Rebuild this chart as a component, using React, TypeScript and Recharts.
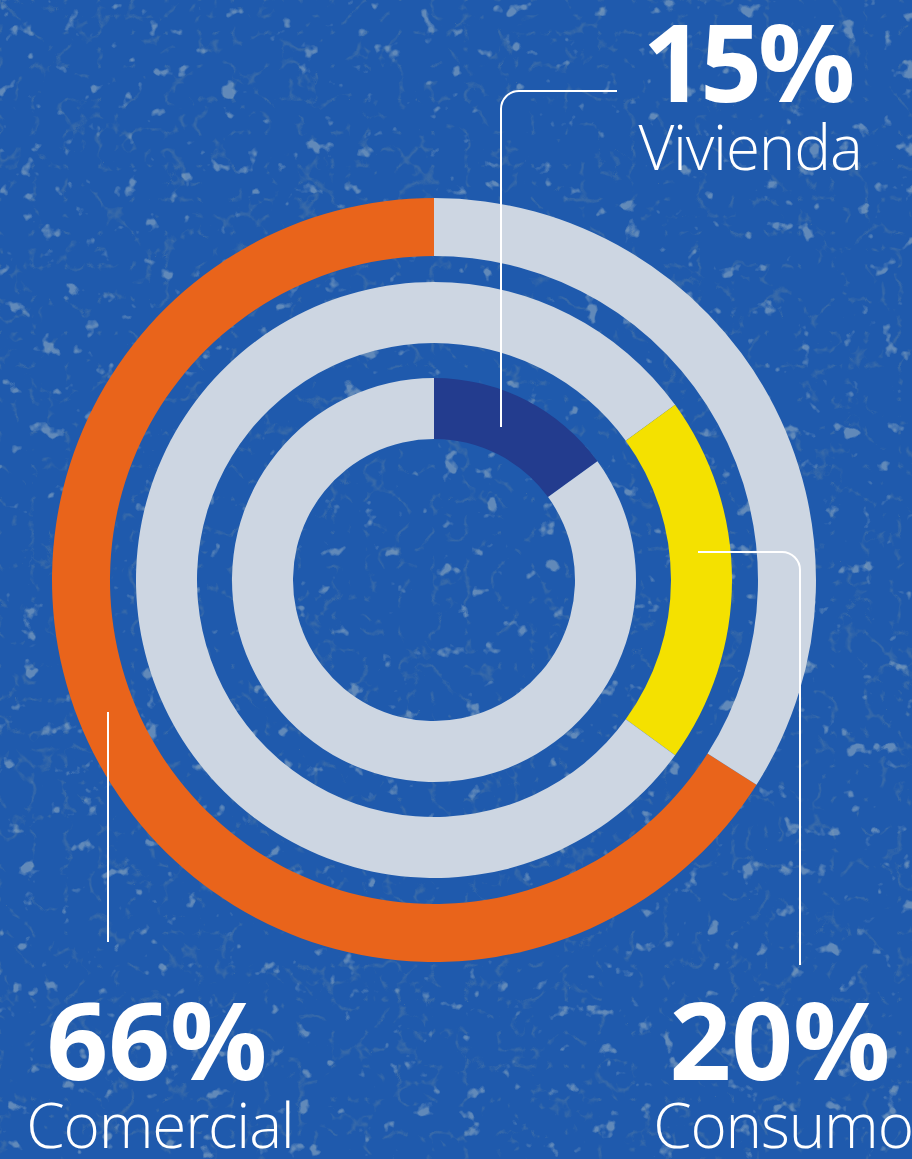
import { PieChart, Pie, Cell } from "recharts";

// participación de cartera por segmento
const segments = ["Comercial", "Consumo", "Vivienda"];
const shares = [66, 20, 15];
const ringColors = ["#e9641b", "#f4e100", "#233c8e"];
const restColor = "#cdd6e2";

const W = 912;
const H = 1159;
const CX = 434;
const CY = 580;

// outer ring: Comercial, counterclockwise from the top
const outerData = [
  { name: segments[0], value: shares[0], fill: ringColors[0] },
  { name: "resto", value: 100 - shares[0], fill: restColor },
];
// inner ring: Vivienda, clockwise from the top
const innerData = [
  { name: segments[2], value: shares[2], fill: ringColors[2] },
  { name: "resto", value: 100 - shares[2], fill: restColor },
];
// middle ring: Consumo starts where Vivienda ends
const middleData = [
  { name: "offset", value: shares[2], fill: restColor },
  { name: segments[1], value: shares[1], fill: ringColors[1] },
  { name: "resto", value: 100 - shares[1] - shares[2], fill: restColor },
];

const labels = [
  { pct: `${shares[2]}%`, name: segments[2], x: 747, y: 102, spacing: -4 },
  { pct: `${shares[0]}%`, name: segments[0], x: 157, y: 1080, spacing: 0 },
  { pct: `${shares[1]}%`, name: segments[1], x: 780, y: 1080, spacing: 0 },
];

const font = "'Open Sans', 'Noto Sans', sans-serif";

const Background = () => (
  <svg width={W} height={H} style={{ position: "absolute", left: 0, top: 0 }}>
    <defs>
      <filter id="cracks" x="0" y="0" width="100%" height="100%">
        <feTurbulence type="turbulence" baseFrequency="0.03" numOctaves={3} seed={3} />
        <feColorMatrix
          type="matrix"
          values="0 0 0 0 0.07
                  0 0 0 0 0.18
                  0 0 0 0 0.38
                  -9 0 0 0 1.3"
        />
      </filter>
      <filter id="chips" x="0" y="0" width="100%" height="100%">
        <feTurbulence type="fractalNoise" baseFrequency="0.05" numOctaves={3} seed={11} />
        <feColorMatrix
          type="matrix"
          values="0 0 0 0 0.36
                  0 0 0 0 0.48
                  0 0 0 0 0.56
                  10 0 0 0 -6.9"
        />
      </filter>
    </defs>
    <rect width={W} height={H} fill="#1f5aad" />
    <rect width={W} height={H} filter="url(#cracks)" opacity={0.55} />
    <rect width={W} height={H} filter="url(#chips)" opacity={0.5} />
  </svg>
);

const Overlay = () => (
  <svg width={W} height={H} style={{ position: "absolute", left: 0, top: 0 }}>
    <g fill="none" stroke="#ffffff" strokeWidth={2}>
      <path d="M 617 91 H 519 A 18 18 0 0 0 501 109 V 427" />
      <path d="M 698 552 H 782 A 18 18 0 0 1 800 570 V 965" />
      <path d="M 108 712 V 942" />
    </g>
    {labels.map((l) => (
      <g key={l.name} fill="#ffffff" fontFamily={font} textAnchor="middle">
        <text x={l.x} y={l.y} fontSize={108} fontWeight={700} letterSpacing={l.spacing}>
          {l.pct}
        </text>
        <text x={l.x + 3} y={l.y + 68} fontSize={62} fontWeight={300} letterSpacing={-1.2}>
          {l.name}
        </text>
      </g>
    ))}
  </svg>
);

export default function App() {
  return (
    <div style={{ position: "absolute", left: 0, top: 0, width: W, height: H, overflow: "hidden" }}>
      <Background />
      <div style={{ position: "absolute", left: 0, top: 0 }}>
        <PieChart width={W} height={H} margin={{ top: 0, right: 0, bottom: 0, left: 0 }}>
          <Pie
            data={outerData}
            dataKey="value"
            cx={CX}
            cy={CY}
            innerRadius={324}
            outerRadius={382}
            startAngle={90}
            endAngle={450}
            stroke="none"
            isAnimationActive={false}
          >
            {outerData.map((d) => (
              <Cell key={d.name} fill={d.fill} />
            ))}
          </Pie>
          <Pie
            data={middleData}
            dataKey="value"
            cx={CX}
            cy={CY}
            innerRadius={237}
            outerRadius={298}
            startAngle={90}
            endAngle={-270}
            stroke="none"
            isAnimationActive={false}
          >
            {middleData.map((d) => (
              <Cell key={d.name} fill={d.fill} />
            ))}
          </Pie>
          <Pie
            data={innerData}
            dataKey="value"
            cx={CX}
            cy={CY}
            innerRadius={141}
            outerRadius={202}
            startAngle={90}
            endAngle={-270}
            stroke="none"
            isAnimationActive={false}
          >
            {innerData.map((d) => (
              <Cell key={d.name} fill={d.fill} />
            ))}
          </Pie>
        </PieChart>
      </div>
      <Overlay />
    </div>
  );
}
